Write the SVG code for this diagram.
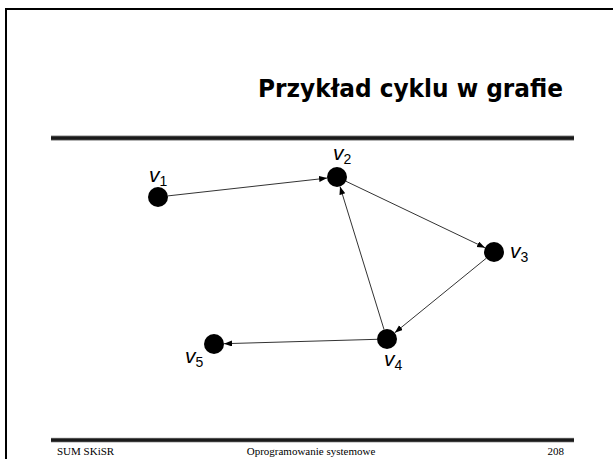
<svg xmlns="http://www.w3.org/2000/svg" width="613" height="459" viewBox="0 0 613 459">
<defs>
<linearGradient id="bar" x1="0" y1="0" x2="0" y2="1">
<stop offset="0" stop-color="#888"/>
<stop offset="0.3" stop-color="#1a1a1a"/>
<stop offset="0.7" stop-color="#1a1a1a"/>
<stop offset="1" stop-color="#666"/>
</linearGradient>
<marker id="arr" markerUnits="userSpaceOnUse" markerWidth="9" markerHeight="7" refX="8" refY="3" orient="auto">
<path d="M0,0 L8,3 L0,6 z" fill="#000"/>
</marker>
<style>
.node{fill:#000}
.edge{stroke:#333;stroke-width:1;fill:none;marker-end:url(#arr)}
.lv{font-family:"Liberation Sans",Arial,sans-serif;font-size:21px;font-style:italic;fill:#000}
.ls{font-family:"Liberation Sans",Arial,sans-serif;font-size:14px;font-style:normal}
.foot{font-family:"Liberation Serif","Times New Roman",serif;font-size:11px;fill:#000}
</style>
</defs>
<rect width="613" height="459" fill="#fff"/>
<rect x="6" y="9" width="700" height="500" fill="none" stroke="#000" stroke-width="2"/>
<text x="563" y="97" text-anchor="end" font-family="'DejaVu Sans',Verdana,sans-serif" font-weight="bold" font-size="25" textLength="305" lengthAdjust="spacingAndGlyphs" fill="#000">Przykład cyklu w grafie</text>
<rect x="51" y="135.5" width="523" height="5" fill="url(#bar)"/>
<rect x="51" y="437.8" width="523" height="4.5" fill="url(#bar)"/>
<text class="foot" x="57" y="455">SUM SKiSR</text>
<text class="foot" x="311" y="455" text-anchor="middle">Oprogramowanie systemowe</text>
<text class="foot" x="564" y="455" text-anchor="end">208</text>
<g id="edges">
<line class="edge" x1="167.9" y1="195.9" x2="327.1" y2="178.1"/>
<line class="edge" x1="346" y1="181.3" x2="485" y2="247.7"/>
<line class="edge" x1="486.2" y1="258.3" x2="394.8" y2="332.7"/>
<line class="edge" x1="384" y1="329.4" x2="340" y2="186.6"/>
<line class="edge" x1="377" y1="339.3" x2="224" y2="343.7"/>
</g>
<g id="v1"><circle class="node" cx="158" cy="197" r="10"/><text class="lv" x="149" y="182">v<tspan class="ls" dy="4">1</tspan></text></g>
<g id="v2"><circle class="node" cx="337" cy="177" r="10"/><text class="lv" x="333" y="160">v<tspan class="ls" dy="4">2</tspan></text></g>
<g id="v3"><circle class="node" cx="494" cy="252" r="10"/><text class="lv" x="510" y="258">v<tspan class="ls" dy="4">3</tspan></text></g>
<g id="v4"><circle class="node" cx="387" cy="339" r="10"/><text class="lv" x="384" y="366">v<tspan class="ls" dy="4">4</tspan></text></g>
<g id="v5"><circle class="node" cx="214" cy="344" r="10"/><text class="lv" x="185" y="363">v<tspan class="ls" dy="4">5</tspan></text></g>
</svg>
